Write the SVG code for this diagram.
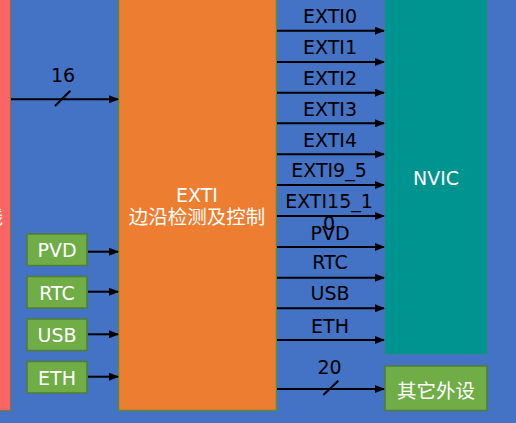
<svg xmlns="http://www.w3.org/2000/svg" width="516" height="423" viewBox="0 0 516 423">
<defs>
<marker id="ah" markerWidth="10" markerHeight="8" refX="9" refY="4" orient="auto" markerUnits="userSpaceOnUse">
<path d="M0,0 L10,4 L0,8 Z" fill="#000"/>
</marker>
<style>
.lbl{font-family:"DejaVu Sans","Noto Sans CJK SC",sans-serif;font-size:19px;fill:#000;text-anchor:middle}
.wt{font-family:"DejaVu Sans","Noto Sans CJK SC",sans-serif;font-size:19px;fill:#fff;text-anchor:middle}
.cjk{font-family:"Noto Sans CJK SC","DejaVu Sans",sans-serif;font-size:19.5px;fill:#fff;text-anchor:middle}
.ln{stroke:#000;stroke-width:2;fill:none}
.arr{stroke:#000;stroke-width:2;fill:none;marker-end:url(#ah)}
.grn{fill:#70AD47;stroke:#507E32;stroke-width:1.5}
</style>
</defs>
<rect x="0" y="0" width="516" height="423" fill="#4472C4"/>

<g id="left">
<rect x="-60" y="-2" width="70.5" height="412.5" fill="#FF6464" stroke="#7A7A3A" stroke-width="1.2"/>
<text class="cjk" x="3" y="224" style="text-anchor:end">输入线</text>
</g>

<g id="exti">
<rect x="118.5" y="-2" width="158" height="412.5" fill="#ED7D31" stroke="#5B8A3A" stroke-width="1.5"/>
<text class="wt" x="197" y="201.5">EXTI</text>
<text class="cjk" x="197" y="224">边沿检测及控制</text>
</g>

<g id="nvic">
<rect x="385" y="-2" width="102" height="356" fill="#009490" stroke="#2A8A8A" stroke-width="1"/>
<text class="wt" x="436" y="184.5">NVIC</text>
</g>

<g id="other">
<rect x="385" y="366" width="102" height="44.5" class="grn"/>
<text class="cjk" x="436" y="398">其它外设</text>
</g>

<g id="pvd"><rect x="27" y="234" width="60" height="31.5" class="grn"/><text class="wt" x="57" y="257">PVD</text></g>
<g id="rtc"><rect x="27" y="276.5" width="60" height="31.5" class="grn"/><text class="wt" x="57" y="299.5">RTC</text></g>
<g id="usb"><rect x="27" y="319" width="60" height="31.5" class="grn"/><text class="wt" x="57" y="342">USB</text></g>
<g id="eth"><rect x="27" y="361.5" width="60" height="31.5" class="grn"/><text class="wt" x="57" y="384.5">ETH</text></g>

<g id="connectors">
<line class="arr" x1="11" y1="99.3" x2="118" y2="99.3"/>
<line class="ln" x1="55" y1="106" x2="70.3" y2="90.7"/>
<text class="lbl" x="63" y="82.3">16</text>

<line class="arr" x1="88" y1="251.7" x2="118" y2="251.7"/>
<line class="arr" x1="88" y1="291.7" x2="118" y2="291.7"/>
<line class="arr" x1="88" y1="334.3" x2="118" y2="334.3"/>
<line class="arr" x1="88" y1="376.7" x2="118" y2="376.7"/>

<line class="arr" x1="277" y1="30.7" x2="384" y2="30.7"/>
<line class="arr" x1="277" y1="62" x2="384" y2="62"/>
<line class="arr" x1="277" y1="92.7" x2="384" y2="92.7"/>
<line class="arr" x1="277" y1="123.3" x2="384" y2="123.3"/>
<line class="arr" x1="277" y1="154.3" x2="384" y2="154.3"/>
<line class="arr" x1="277" y1="185" x2="384" y2="185"/>
<line class="arr" x1="277" y1="216" x2="384" y2="216"/>
<line class="arr" x1="277" y1="247" x2="384" y2="247"/>
<line class="arr" x1="277" y1="277.7" x2="384" y2="277.7"/>
<line class="arr" x1="277" y1="308.3" x2="384" y2="308.3"/>
<line class="arr" x1="277" y1="340" x2="384" y2="340"/>
<line class="arr" x1="277" y1="389" x2="384" y2="389"/>
<line class="ln" x1="323.3" y1="395" x2="338.3" y2="380.7"/>

<text class="lbl" x="330" y="23">EXTI0</text>
<text class="lbl" x="330" y="54.3">EXTI1</text>
<text class="lbl" x="330" y="85">EXTI2</text>
<text class="lbl" x="330" y="115.7">EXTI3</text>
<text class="lbl" x="330" y="146.7">EXTI4</text>
<text class="lbl" x="329" y="176.7">EXTI9_5</text>
<text class="lbl" x="329" y="208.3">EXTI15_1</text>
<text class="lbl" x="329" y="230">0</text>
<text class="lbl" x="330" y="240">PVD</text>
<text class="lbl" x="330" y="269.3">RTC</text>
<text class="lbl" x="330" y="300">USB</text>
<text class="lbl" x="330" y="332.7">ETH</text>
<text class="lbl" x="329.5" y="374.3">20</text>
</g>
</svg>
